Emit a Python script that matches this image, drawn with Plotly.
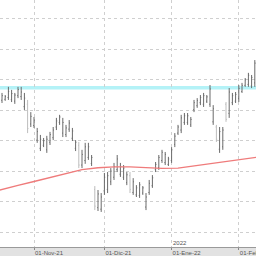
import plotly.graph_objects as go

# Bar index (trading days, 18-Oct-21 .. 07-Feb-22)
idx = list(range(80))
high = [14.57,14.50,14.77,14.67,14.57,14.77,14.77,14.57,14.34,13.94,
        13.78,13.42,13.19,13.09,13.16,13.29,13.45,13.75,13.85,13.75,
        13.52,13.68,13.42,13.02,12.96,12.70,12.93,12.93,12.53,11.51,
        11.38,11.28,11.94,11.97,12.10,12.27,12.53,12.27,12.20,11.97,
        11.97,11.77,11.54,11.64,11.51,11.28,11.71,11.87,12.30,12.53,
        12.70,12.63,12.47,12.79,13.25,13.52,13.85,13.91,13.91,13.78,
        14.34,14.40,14.50,14.57,14.50,14.83,14.17,13.52,13.45,13.45,
        14.27,14.73,14.57,14.60,14.83,14.90,15.06,15.23,15.16,15.65]
low = [14.24,14.31,14.34,14.27,14.21,14.40,14.34,14.01,13.25,13.45,
       13.42,12.93,12.66,12.79,12.60,12.86,13.02,13.35,13.52,13.12,
       13.12,13.29,12.99,12.66,12.10,12.10,12.24,12.37,12.17,10.72,
       10.69,10.66,11.22,11.28,11.54,11.71,11.97,11.81,11.71,11.54,
       11.28,11.22,11.15,11.12,11.22,10.72,11.22,11.45,11.97,12.04,
       12.27,12.20,12.17,12.27,12.79,13.19,13.25,13.52,13.52,13.45,
       13.94,14.08,14.17,14.11,14.24,14.11,13.52,12.96,12.60,12.70,
       13.62,13.75,14.17,14.24,14.27,14.57,14.77,14.77,14.73,14.77]
open_ = [14.33,14.36,14.42,14.35,14.30,14.48,14.45,14.12,14.20,13.55,
         13.50,13.02,12.75,12.85,12.70,12.95,13.10,13.45,13.60,13.25,
         13.20,13.38,13.08,12.75,12.85,12.20,12.35,12.45,12.25,11.40,
         10.80,10.75,11.35,11.40,11.65,11.80,12.05,11.90,11.80,11.62,
         11.85,11.30,11.22,11.20,11.28,10.82,11.30,11.52,12.05,12.12,
         12.35,12.28,12.22,12.35,12.88,13.25,13.35,13.60,13.60,13.52,
         14.02,14.15,14.25,14.20,14.30,14.20,13.62,13.45,12.72,12.80,
         14.20,13.90,14.25,14.30,14.38,14.62,14.82,14.85,14.80,14.90]
close = [14.48,14.45,14.62,14.55,14.50,14.68,14.60,14.40,13.40,13.80,
         13.68,13.30,13.05,13.00,13.05,13.20,13.35,13.65,13.78,13.60,
         13.42,13.58,13.32,12.95,12.20,12.55,12.80,12.80,12.45,10.85,
         11.25,11.15,11.80,11.85,12.00,12.15,12.40,12.15,12.10,11.88,
         11.40,11.65,11.45,11.55,11.45,11.15,11.60,11.78,12.22,12.45,
         12.62,12.55,12.40,12.70,13.15,13.45,13.75,13.82,13.82,13.70,
         14.25,14.32,14.42,14.48,14.44,14.70,14.05,13.05,13.30,13.35,
         13.70,14.60,14.48,14.52,14.72,14.82,15.00,15.15,15.08,15.55]

# Moving average (read at selected bars)
ma_idx = [-1, 0, 5, 10, 15, 20, 25, 30, 35, 40, 45, 50, 55, 60, 65, 70, 75, 79, 80]
ma_val = [11.37, 11.40, 11.53, 11.66, 11.79, 11.94, 12.05, 12.11, 12.14, 12.14,
          12.12, 12.09, 12.10, 12.17, 12.25, 12.33, 12.40, 12.45, 12.46]

resistance = 14.74

tick_idx = [10, 32, 53, 74]
tick_text = ["01-Nov-21", "01-Dic-21", "01-Ene-22", "01-Feb-22"]
year_idx = 53
year_text = "2022"

fig = go.Figure()
fig.add_hline(y=resistance, line=dict(color="#b4f2f7", width=3.5), layer="below")
fig.add_trace(go.Scatter(x=ma_idx, y=ma_val, mode="lines",
                         line=dict(color="#ef7b7b", width=1.4), hoverinfo="skip"))
fig.add_trace(go.Ohlc(x=idx, open=open_, high=high, low=low, close=close,
                      increasing=dict(line=dict(color="#6a6a6a", width=1)),
                      decreasing=dict(line=dict(color="#bdbdbd", width=1)),
                      tickwidth=0.25))
fig.add_annotation(x=year_idx, y=0, xref="x", yref="paper", text=year_text,
                   showarrow=False, xanchor="left", yanchor="bottom",
                   xshift=-1, yshift=-1,
                   font=dict(size=6, color="#555555", family="Liberation Sans Narrow, Arial"))

fig.update_layout(
    width=256, height=256,
    margin=dict(l=0, r=0, t=0, b=9),
    paper_bgcolor="#e2e2e2", plot_bgcolor="white",
    showlegend=False,
    xaxis=dict(range=[-0.625, 79.375], tickvals=tick_idx, ticktext=tick_text,
               showgrid=True, gridcolor="#cfcfcf", griddash="dot", gridwidth=1,
               ticks="outside", ticklen=2, tickcolor="#888888",
               ticklabelposition="outside right", ticklabeloverflow="allow",
               tickfont=dict(size=6, color="#555555", family="Liberation Sans Narrow, Arial"),
               showline=True, linecolor="#9a9a9a", linewidth=1,
               rangeslider=dict(visible=False), zeroline=False, automargin=False,
               fixedrange=True),
    yaxis=dict(range=[9.507, 17.624], tickvals=[10, 11, 12, 13, 14, 15, 16, 17],
               showticklabels=False, showgrid=True, gridcolor="#cfcfcf",
               griddash="dot", gridwidth=1, zeroline=False, ticks="",
               automargin=False, fixedrange=True),
)
fig.write_html("out.html")
